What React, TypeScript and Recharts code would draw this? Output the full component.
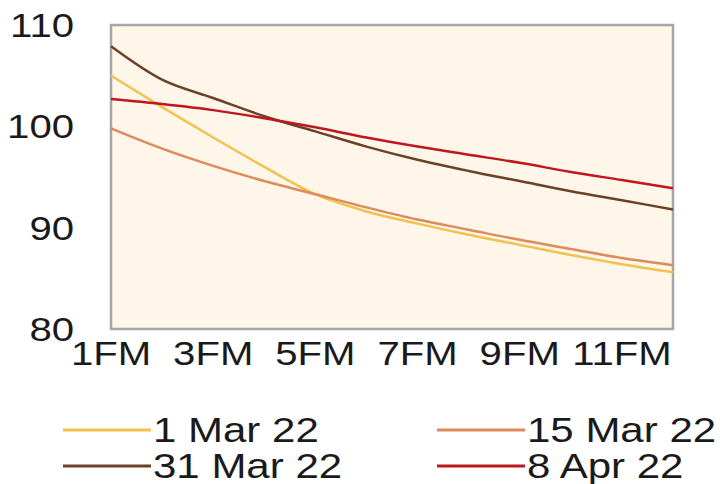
import React from 'react';
import { LineChart, Line, XAxis, YAxis, ReferenceArea } from 'recharts';

const months = ['1FM', '2FM', '3FM', '4FM', '5FM', '6FM', '7FM', '8FM', '9FM', '10FM', '11FM', '12FM'];
const mar1 = [105.0, 101.9, 98.9, 96.0, 93.3, 91.6, 90.4, 89.3, 88.3, 87.3, 86.4, 85.6];
const mar15 = [99.8, 97.8, 96.1, 94.6, 93.3, 92.0, 90.8, 89.8, 88.8, 87.9, 87.0, 86.3];
const mar31 = [107.9, 104.6, 102.8, 101.0, 99.5, 98.0, 96.7, 95.6, 94.6, 93.6, 92.7, 91.8];
const apr8 = [102.7, 102.2, 101.6, 100.8, 99.9, 98.9, 98.0, 97.2, 96.4, 95.5, 94.7, 93.9];
const yTicks = [80, 90, 100, 110];

const series = [
  { key: 'mar1', name: '1 Mar 22', color: '#f2c24e' },
  { key: 'mar15', name: '15 Mar 22', color: '#df8a5c' },
  { key: 'mar31', name: '31 Mar 22', color: '#6b4128' },
  { key: 'apr8', name: '8 Apr 22', color: '#c0161e' },
];

const data = months.map((m, i) => ({
  month: m,
  mar1: mar1[i],
  mar15: mar15[i],
  mar31: mar31[i],
  apr8: apr8[i],
}));

const font = '"Liberation Sans", Arial, sans-serif';
const fs = 34;
const stretch = 1.18;

const XTick = ({ x, y, payload }: any) => (
  <text
    transform={`translate(${x},${y}) scale(${stretch},1)`}
    textAnchor="middle"
    dy="0.71em"
    fontSize={fs}
    fill="#1a1a1a"
    fontFamily={font}
  >
    {payload.value}
  </text>
);

const YTick = ({ x, y, payload }: any) => (
  <text
    transform={`translate(${x},${y}) scale(${stretch},1)`}
    textAnchor="end"
    dy="0.355em"
    fontSize={fs}
    fill="#1a1a1a"
    fontFamily={font}
  >
    {payload.value}
  </text>
);

// legend placement: two columns, two rows
const legendPos = [
  { left: 63, top: 430 },
  { left: 437, top: 430 },
  { left: 63, top: 466 },
  { left: 437, top: 466 },
];

export default function App() {
  return (
    <div style={{ position: 'absolute', left: 0, top: 0, width: 720, height: 484, background: '#fff' }}>
      <LineChart
        width={720}
        height={484}
        data={data}
        margin={{ top: 25, right: 47, bottom: 105, left: 0 }}
      >
        <ReferenceArea
          y1={80}
          y2={110}
          fill="#fdf6e9"
          fillOpacity={1}
          stroke="#a6a6a6"
          strokeWidth={2.5}
        />
        <XAxis
          dataKey="month"
          interval={1}
          axisLine={false}
          tickLine={false}
          tickSize={0}
          tickMargin={12}
          height={50}
          tick={<XTick />}
        />
        <YAxis
          domain={[80, 110]}
          ticks={yTicks}
          width={111}
          axisLine={false}
          tickLine={false}
          tickSize={0}
          tickMargin={37}
          tick={<YTick />}
        />
        {series.map((s) => (
          <Line
            key={s.key}
            type="monotone"
            dataKey={s.key}
            name={s.name}
            stroke={s.color}
            strokeWidth={2.5}
            dot={false}
            isAnimationActive={false}
          />
        ))}
      </LineChart>
      {series.map((s, i) => (
        <div
          key={s.key}
          style={{
            position: 'absolute',
            left: legendPos[i].left,
            top: legendPos[i].top - 20,
            height: 40,
            display: 'flex',
            alignItems: 'center',
            fontFamily: font,
            fontSize: 35,
            color: '#1a1a1a',
            whiteSpace: 'nowrap',
          }}
        >
          <svg width={88} height={40}>
            <line x1={0} y1={20} x2={88} y2={20} stroke={s.color} strokeWidth={3} />
          </svg>
          <span style={{ display: 'inline-block', transform: 'scaleX(1.2)', transformOrigin: 'left center', marginLeft: 2 }}>
            {s.name}
          </span>
        </div>
      ))}
    </div>
  );
}
